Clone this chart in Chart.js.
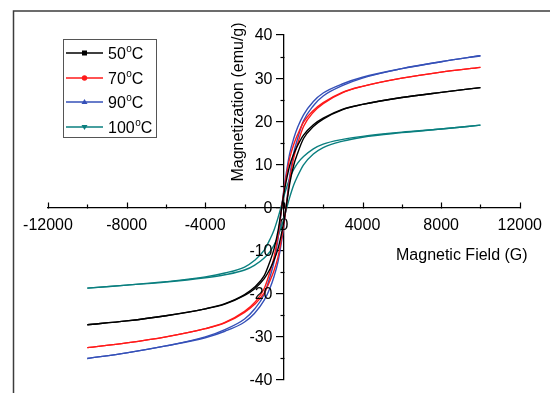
<!DOCTYPE html>
<html><head><meta charset="utf-8">
<script src="https://cdn.jsdelivr.net/npm/chart.js@4.4.0/dist/chart.umd.min.js"></script>
<style>html,body{margin:0;padding:0;background:#fff;}#wrap{width:550px;height:393px;position:relative;}</style>
</head><body><div id="wrap"><canvas id="c" width="550" height="393"></canvas></div>
<script>
// Applied field (G) sample points
const fieldG = [-10000,-8000,-6000,-4000,-3000,-2000,-1500,-1000,-700,-500,-300,-150,0,150,300,500,700,1000,1500,2000,3000,4000,6000,8000,10000];
// Series labels (temperature, °C)
const temps = ['50','70','90','100'];
// Magnetization (emu/g): descending-field branch and ascending-field branch
const m50Down  = [-27.2,-26.3,-25.1,-23.5,-22.3,-20.2,-18.5,-15.8,-12.4,-9.6,-5.5,-1.2,3.2,6.8,9.8,12.4,14.4,16.8,19.2,20.7,22.8,23.9,25.5,26.7,27.8];
const m50Up    = [-27.2,-26.3,-25.1,-23.5,-22.4,-20.4,-18.9,-16.5,-14.2,-12.2,-9.6,-6.7,-3.2,1.2,5.6,9.8,12.6,16.0,18.8,20.5,22.7,23.9,25.5,26.7,27.8];
const m70Down  = [-32.5,-31.4,-30.0,-28.1,-26.65,-24.1,-22.1,-18.8,-14.8,-11.5,-6.6,-1.4,3.8,8.0,11.5,14.6,16.9,19.8,22.5,24.3,26.75,28.1,30.0,31.4,32.5];
const m70Up    = [-32.5,-31.4,-30.0,-28.1,-26.75,-24.3,-22.5,-19.8,-16.9,-14.6,-11.5,-8.0,-3.8,1.4,6.6,11.5,14.8,18.8,22.1,24.1,26.65,28.1,30.0,31.4,32.5];
const m90Down  = [-35.0,-33.7,-32.1,-30.0,-28.3,-25.85,-23.6,-20.1,-16.0,-12.6,-7.4,-1.6,4.2,8.8,12.6,16.0,18.6,21.5,24.6,26.55,28.7,30.2,32.2,33.8,35.2];
const m90Up    = [-35.0,-33.7,-32.1,-30.2,-28.7,-26.55,-24.6,-21.5,-18.6,-16.0,-12.6,-8.8,-4.2,1.6,7.4,12.6,16.0,20.1,23.6,25.85,28.3,30.0,32.2,33.8,35.2];
const m100Down = [-18.7,-18.0,-17.2,-16.1,-15.2,-13.8,-12.3,-9.9,-7.3,-5.2,-2.4,0,2.6,4.8,6.8,8.8,10.3,11.8,13.6,14.7,15.8,16.5,17.45,18.2,19.1];
const m100Up   = [-18.7,-18.0,-17.3,-16.3,-15.6,-14.5,-13.4,-11.7,-10.2,-8.7,-6.7,-4.7,-2.6,0,2.4,5.2,7.3,9.9,12.4,13.9,15.4,16.3,17.35,18.2,19.1];
// Tick labels
const xTickValues = [-12000,-8000,-4000,0,4000,8000,12000];
const yTickValues = [-40,-30,-20,-10,0,10,20,30,40];
const xTitle = 'Magnetic Field (G)';
const yTitle = 'Magnetization (emu/g)';

const FONT = '"Liberation Sans", Arial, sans-serif';
const colors = ['#000000','#ff1a1a','#3550b8','#0a7f7f'];
const markers = ['rect','circle','triangle','triangleDown'];
const branches = [[m50Down,m50Up],[m70Down,m70Up],[m90Down,m90Up],[m100Down,m100Up]];

const datasets = [];
branches.forEach((pair, i) => {
  pair.forEach((arr, j) => {
    datasets.push({
      label: temps[i] + '°C',
      legendEntry: j === 0,
      data: fieldG.map((x, k) => ({x: x, y: arr[k]})),
      borderColor: colors[i],
      borderWidth: 1.4,
      pointRadius: 0,
      fill: false,
      cubicInterpolationMode: 'monotone'
    });
  });
});

const deco = {
  id: 'deco',
  afterDraw(chart) {
    const ctx = chart.ctx;
    const xs = chart.scales.x, ys = chart.scales.y;
    const x0 = Math.round(xs.getPixelForValue(0)) + 0.5;
    const y0 = Math.round(ys.getPixelForValue(0)) + 0.5;
    ctx.save();
    // outer frame (top and left)
    ctx.strokeStyle = '#3c3c3c'; ctx.lineWidth = 1.5;
    ctx.beginPath(); ctx.moveTo(13.5, 393); ctx.lineTo(13.5, 11); ctx.lineTo(550, 11); ctx.stroke();
    // x ticks (pointing up), majors and minors
    ctx.strokeStyle = '#000'; ctx.lineWidth = 1.2;
    for (let v = -12000; v <= 12000; v += 2000) {
      const px = Math.round(xs.getPixelForValue(v)) + 0.5;
      const len = (v % 4000 === 0) ? 6 : 4;
      ctx.beginPath(); ctx.moveTo(px, y0); ctx.lineTo(px, y0 - len); ctx.stroke();
    }
    // y minor ticks (pointing left)
    for (let v = -35; v <= 35; v += 10) {
      const py = Math.round(ys.getPixelForValue(v)) + 0.5;
      ctx.beginPath(); ctx.moveTo(x0, py); ctx.lineTo(x0 - 4, py); ctx.stroke();
    }
    // y tick labels
    ctx.fillStyle = '#000'; ctx.font = '16px ' + FONT;
    ctx.textAlign = 'right'; ctx.textBaseline = 'middle';
    ys.ticks.forEach(t => {
      ctx.fillText(String(t.value), x0 - 12, ys.getPixelForValue(t.value) + 1);
    });
    // axis titles
    ctx.textAlign = 'left'; ctx.textBaseline = 'alphabetic';
    ctx.fillText(xTitle, 396, 260);
    ctx.save();
    ctx.translate(243, 102); ctx.rotate(-Math.PI / 2);
    ctx.textAlign = 'center';
    ctx.fillText(yTitle, 0, 0);
    ctx.restore();
    // legend
    ctx.strokeStyle = '#555'; ctx.lineWidth = 1;
    ctx.strokeRect(63.5, 39.5, 93, 98);
    const rows = [53, 78, 102, 127];
    temps.forEach((t, i) => {
      const y = rows[i];
      ctx.strokeStyle = colors[i]; ctx.lineWidth = 1.3;
      ctx.beginPath(); ctx.moveTo(66, y); ctx.lineTo(103, y); ctx.stroke();
      ctx.fillStyle = colors[i];
      const mx = 84.5, r = 3;
      ctx.beginPath();
      if (markers[i] === 'rect') ctx.rect(mx - 2.5, y - 2.5, 5, 5);
      else if (markers[i] === 'circle') ctx.arc(mx, y, 2.7, 0, Math.PI * 2);
      else if (markers[i] === 'triangle') { ctx.moveTo(mx, y - r); ctx.lineTo(mx + r, y + 2); ctx.lineTo(mx - r, y + 2); ctx.closePath(); }
      else { ctx.moveTo(mx, y + r); ctx.lineTo(mx + r, y - 2); ctx.lineTo(mx - r, y - 2); ctx.closePath(); }
      ctx.fill();
      // text with superscript o
      ctx.fillStyle = '#000'; ctx.textAlign = 'left'; ctx.textBaseline = 'alphabetic';
      ctx.font = '16px ' + FONT;
      let tx = 108;
      ctx.fillText(t, tx, y + 6);
      tx += ctx.measureText(t).width;
      ctx.font = '10px ' + FONT;
      ctx.fillText('o', tx + 0.5, y - 1);
      tx += ctx.measureText('o').width + 0.5;
      ctx.font = '16px ' + FONT;
      ctx.fillText('C', tx, y + 6);
    });
    ctx.restore();
  }
};

new Chart(document.getElementById('c'), {
  type: 'line',
  data: { datasets: datasets },
  options: {
    responsive: false, animation: false, devicePixelRatio: 1,
    layout: { padding: { left: 48, right: 28, top: 35, bottom: 13 } },
    plugins: { legend: { display: false }, tooltip: { enabled: false } },
    scales: {
      x: {
        type: 'linear', min: -12000, max: 12000, position: { y: 0 },
        afterFit(s) { s.height = 0; },
        afterBuildTicks(s) { s.ticks = xTickValues.map(v => ({ value: v })); },
        ticks: { font: { family: FONT, size: 16 }, color: '#000', padding: 8, maxRotation: 0, autoSkip: false, callback: v => String(v) },
        grid: { display: true, drawOnChartArea: false, drawTicks: false },
        border: { display: true, color: '#000', width: 1.3 }
      },
      y: {
        type: 'linear', min: -40, max: 40, position: { x: 0 },
        afterFit(s) { s.width = 0; },
        afterBuildTicks(s) { s.ticks = yTickValues.map(v => ({ value: v })); },
        ticks: { display: false },
        grid: { display: true, drawOnChartArea: false, drawTicks: true, tickLength: 7, color: '#000', lineWidth: 1.2 },
        border: { display: true, color: '#000', width: 1.3 }
      }
    }
  },
  plugins: [deco]
});
</script></body></html>
